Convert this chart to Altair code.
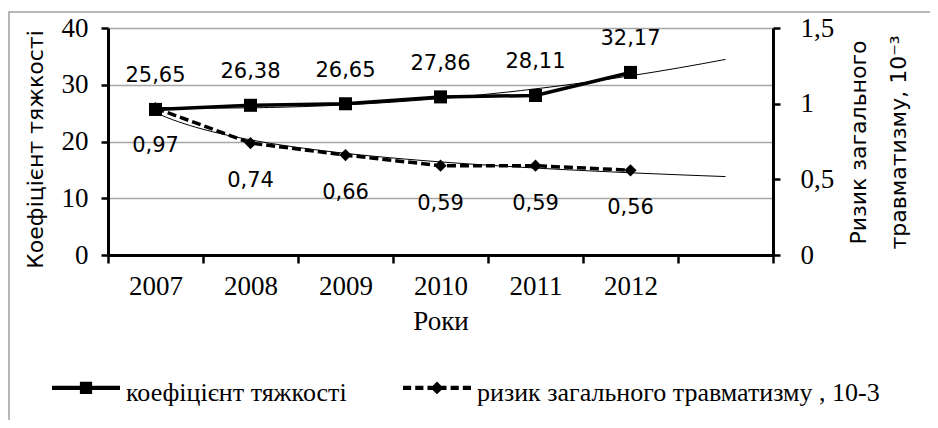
import json
import altair as alt
import pandas as pd

# ---- data ----
years = ["2007", "2008", "2009", "2010", "2011", "2012"]
coef = [25.65, 26.38, 26.65, 27.86, 28.11, 32.17]          # коефіцієнт тяжкості
risk = [0.97, 0.74, 0.66, 0.59, 0.59, 0.56]                # ризик загального травматизму, 10^-3
series_names = ["коефіцієнт тяжкості", "ризик загального травматизму , 10-3"]
left_ticks = [0, 10, 20, 30, 40]
right_ticks = [0, 0.5, 1, 1.5]

df = pd.DataFrame({
    "idx": list(range(1, len(years) + 1)),
    "year": years,
    "coef": coef,
    "risk": risk,
})

W, H = 665, 227
n_slots = len(years) + 1          # one extra forecast slot for the trend lines
band = W / n_slots

SERIF = "Liberation Serif"
SANS = "DejaVu Sans"
GRID = "#a6a6a6"

x_enc = alt.X(
    "idx:Q",
    scale=alt.Scale(domain=[0.5, n_slots + 0.5], nice=False, zero=False),
    axis=alt.Axis(
        values=[0.5 + i for i in range(n_slots + 1)],
        labelExpr=f"datum.value < {len(years)} ? {json.dumps(years)}[floor(datum.value)] : ''",
        labelOffset=band / 2,
        labelFlush=False,
        labelOverlap=False,
        labelBound=False,
        labelFont=SERIF, labelFontSize=27, labelColor="black", labelPadding=10,
        tickSize=8, tickWidth=2.5, tickColor="black",
        domainColor="black", domainWidth=3,
        grid=False,
        title="Роки", titleFont=SERIF, titleFontSize=27, titleFontWeight="normal",
        titleColor="black", titlePadding=9,
    ),
)

y_left = alt.Y(
    "coef:Q",
    scale=alt.Scale(domain=[0, 40], nice=False),
    axis=alt.Axis(
        orient="left", values=left_ticks,
        grid=True, gridColor=GRID, gridWidth=1.5,
        domainColor="black", domainWidth=3,
        tickSize=7, tickWidth=2.5, tickColor="black",
        labelFont=SERIF, labelFontSize=27, labelColor="black", labelPadding=13,
        title="Коефіцієнт тяжкості", titleFont=SANS, titleFontSize=22,
        titleFontWeight="normal", titleColor="black", titlePadding=14, titleY=121,
    ),
)

y_right = alt.Y(
    "risk:Q",
    scale=alt.Scale(domain=[0, 1.5], nice=False),
    axis=alt.Axis(
        orient="right", values=right_ticks,
        labelExpr="replace(toString(datum.value), '.', ',')",
        grid=False,
        domainColor="black", domainWidth=3,
        tickSize=7, tickWidth=2.5, tickColor="black",
        labelFont=SERIF, labelFontSize=27, labelColor="black", labelPadding=20,
        title=["Ризик загального", "травматизму, 10⁻³"], titleFont=SANS, titleFontSize=22,
        titleFontWeight="normal", titleColor="black", titleAngle=270, titleBaseline="top",
        titleLineHeight=40, titleX=75, titleY=114,
    ),
)

base = alt.Chart(df)

# --- коефіцієнт тяжкості (left axis) ---
coef_trend = base.transform_regression(
    "idx", "coef", method="poly", order=2, extent=[1, n_slots]
).mark_line(color="black", strokeWidth=1).encode(x=x_enc, y=y_left)
coef_line = base.mark_line(color="black", strokeWidth=3.5).encode(x=x_enc, y=y_left)
coef_pts = base.mark_point(shape="square", filled=True, color="black", size=170, opacity=1).encode(x=x_enc, y=y_left)
coef_txt = base.transform_calculate(
    lab="replace(format(datum.coef, '.2f'), '.', ',')"
).mark_text(font=SANS, fontSize=21, color="black", dy=-33, baseline="middle").encode(
    x=x_enc, y=y_left, text="lab:N")
coef_layer = alt.layer(coef_trend, coef_line, coef_pts, coef_txt)

# --- ризик (right axis) ---
risk_trend = base.transform_regression(
    "idx", "risk", method="pow", extent=[1, n_slots]
).mark_line(color="black", strokeWidth=1).encode(x=x_enc, y=y_right)
risk_line = base.mark_line(color="black", strokeWidth=3.5, strokeDash=[9, 4]).encode(x=x_enc, y=y_right)
risk_pts = base.mark_point(shape="diamond", filled=True, color="black", size=150, opacity=1).encode(x=x_enc, y=y_right)
risk_txt = base.transform_calculate(
    lab="replace(format(datum.risk, '.2f'), '.', ',')"
).mark_text(font=SANS, fontSize=21, color="black", dy=38, baseline="middle").encode(
    x=x_enc, y=y_right, text="lab:N")
risk_layer = alt.layer(risk_trend, risk_line, risk_pts, risk_txt)

# --- legend (invisible helper layer carrying the legend) ---
# symbol glyphs drawn slightly above the label's middle, as in the reference
sym_solid = "M-1,-0.21H1V-0.09H-1Z M-0.18,-0.33H0.18V0.03H-0.18Z"
sym_dash = ("M-1,-0.21H-0.76V-0.09H-1Z M-0.64,-0.21H-0.40V-0.09H-0.64Z "
            "M-0.28,-0.21H0.28V-0.09H-0.28Z M0.40,-0.21H0.64V-0.09H0.40Z "
            "M0.76,-0.21H1V-0.09H0.76Z M0,-0.34L0.19,-0.15L0,0.04L-0.19,-0.15Z")
legend_df = pd.DataFrame({"series": series_names})
legend_layer = alt.Chart(legend_df).mark_point(filled=True, color="black", opacity=0).encode(
    shape=alt.Shape(
        "series:N",
        scale=alt.Scale(domain=series_names, range=[sym_solid, sym_dash]),
        legend=alt.Legend(
            orient="none", legendX=-56, legendY=331, direction="horizontal",
            title=None, symbolSize=4624, symbolFillColor="black",
            symbolStrokeColor="black", symbolStrokeWidth=0, symbolOpacity=1,
            labelFont=SERIF, labelFontSize=26, labelColor="black",
            labelOffset=6, columnPadding=56, padding=0, labelLimit=0,
        ),
    )
)

# --- outer frame of the figure ---
frame = alt.Chart(alt.Data(values=[{}])).mark_rect(
    fill="transparent", stroke="#a0a0a0", strokeWidth=1.5
).encode(x=alt.value(-99), x2=alt.value(1100), y=alt.value(-16), y2=alt.value(700))

chart = alt.layer(frame, legend_layer, coef_layer, risk_layer).resolve_scale(
    y="independent"
).properties(
    width=W, height=H,
    autosize=alt.AutoSizeParams(type="none"),
    padding={"left": 100, "top": 20, "right": 157, "bottom": 165},
).configure_view(strokeWidth=0).configure_legend(
    labelFont=SERIF, labelFontSize=26, labelColor="black"
).configure(background="white")

chart.save("out.html", embed_options={"renderer": "svg", "actions": False})
